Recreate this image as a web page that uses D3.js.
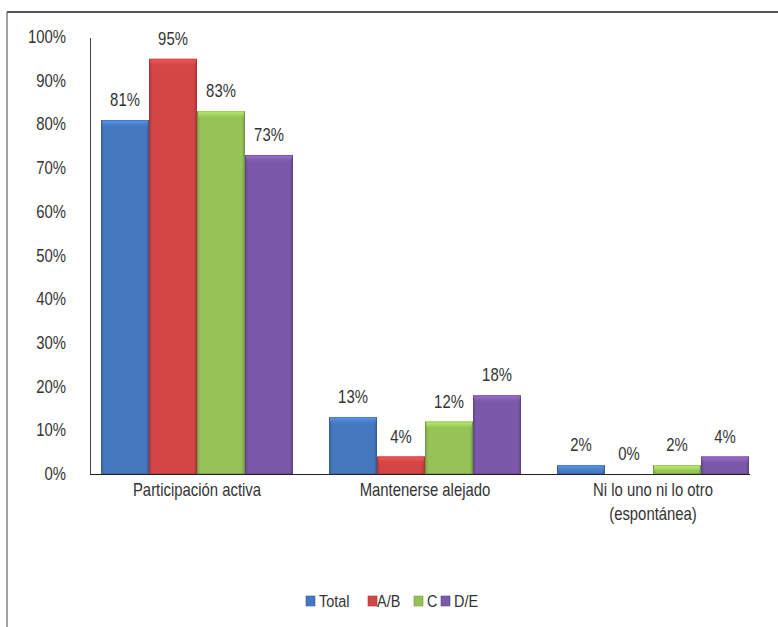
<!DOCTYPE html>
<html><head><meta charset="utf-8">
<script src="https://cdn.jsdelivr.net/npm/d3@7"></script>
<style>body{margin:0;background:#fff}svg{display:block;font-family:"Liberation Sans",Arial,sans-serif}</style>
</head><body>
<svg id="c" width="778" height="627"></svg>
<script>
const categories = [["Participación activa"], ["Mantenerse alejado"], ["Ni lo uno ni lo otro", "(espontánea)"]];
const seriesNames = ["Total", "A/B", "C", "D/E"];
const seriesColors = ["#4678c0", "#d44545", "#95c357", "#7b59a8"];
const total = [81, 13, 2];
const ab = [95, 4, 0];
const c = [83, 12, 2];
const de = [73, 18, 4];
const yTicks = [0,10,20,30,40,50,60,70,80,90,100];

const series = [total, ab, c, de];
const svg = d3.select("#c");
const FS = 17.5, SX = 0.85;

function label(parent, x, y, txt, anchor, size) {
  return parent.append("text")
    .attr("transform", `translate(${x},${y}) scale(${SX},1)`)
    .attr("text-anchor", anchor).attr("font-size", size || FS).attr("fill", "#333").text(txt);
}

// frame
svg.append("line").attr("x1",7).attr("x2",778).attr("y1",12).attr("y2",12).attr("stroke","#555").attr("stroke-width",2);
svg.append("line").attr("x1",7).attr("x2",7).attr("y1",12).attr("y2",627).attr("stroke","#666").attr("stroke-width",1.2);

const defs = svg.append("defs");
seriesColors.forEach((col, i) => {
  const g = defs.append("linearGradient").attr("id","g"+i).attr("x1",0).attr("x2",1).attr("y1",0).attr("y2",0);
  const cc = d3.color(col);
  g.append("stop").attr("offset","0%").attr("stop-color", cc.darker(0.6));
  g.append("stop").attr("offset","7%").attr("stop-color", col);
  g.append("stop").attr("offset","93%").attr("stop-color", col);
  g.append("stop").attr("offset","100%").attr("stop-color", cc.darker(0.7));
  const t = defs.append("linearGradient").attr("id","t"+i).attr("x1",0).attr("x2",0).attr("y1",0).attr("y2",1);
  t.append("stop").attr("offset","0%").attr("stop-color", cc.brighter(0.8));
  t.append("stop").attr("offset","100%").attr("stop-color", col).attr("stop-opacity",0);
});

const y = d3.scaleLinear().domain([0,100]).range([474,37]);
const x0 = d3.scaleBand().domain(d3.range(categories.length)).range([83,767]).paddingInner(0).paddingOuter(0);
const barW = 48;
const groupW = barW * series.length;

// y axis labels
const ya = svg.append("g");
yTicks.forEach(d => label(ya, 66, y(d)+6, d+"%", "end"));
svg.append("line").attr("x1",90.5).attr("x2",90.5).attr("y1",38).attr("y2",474).attr("stroke","#444").attr("stroke-width",1);

// bars
series.forEach((vals, si) => {
  const g = svg.append("g");
  vals.forEach((v, ci) => {
    const bx = x0(ci) + (x0.bandwidth()-groupW)/2 + si*barW;
    const by = y(v), h = y(0) - y(v);
    if (h > 0) {
      g.append("rect").attr("x",bx).attr("y",by).attr("width",barW).attr("height",h).attr("fill","url(#g"+si+")");
      g.append("rect").attr("x",bx+1).attr("y",by).attr("width",barW-2).attr("height",Math.min(8,h)).attr("fill","url(#t"+si+")");
      g.append("rect").attr("x",bx+0.5).attr("y",by+0.5).attr("width",barW-1).attr("height",h-1).attr("fill","none").attr("stroke",d3.color(seriesColors[si]).darker(0.9)).attr("stroke-opacity",0.5);
    }
    label(g, bx+barW/2, by-14, v+"%", "middle");
  });
});

// x axis line
svg.append("line").attr("x1",90).attr("x2",750).attr("y1",474.5).attr("y2",474.5).attr("stroke","#222").attr("stroke-width",1.2);

// category labels
categories.forEach((lines, ci) => {
  lines.forEach((l, li) => label(svg, x0(ci)+x0.bandwidth()/2, 496 + li*24, l, "middle"));
});

// legend
const legendX = [306, 368, 414, 441];
seriesNames.forEach((n, i) => {
  svg.append("rect").attr("x",legendX[i]).attr("y",596).attr("width",9).attr("height",10).attr("fill","url(#g"+i+")").attr("stroke",d3.color(seriesColors[i]).darker(0.6)).attr("stroke-width",0.6);
  label(svg, legendX[i]+(i===1?9:13), 607, n, "start", 17);
});
</script>
</body></html>
